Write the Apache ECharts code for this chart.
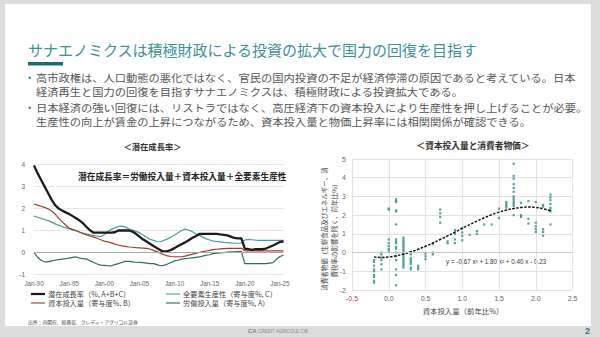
<!DOCTYPE html>
<html><head><meta charset="utf-8">
<script src="https://cdn.jsdelivr.net/npm/echarts@6/dist/echarts.min.js"></script>
<style>html,body{margin:0;padding:0;background:#fff}#c{width:600px;height:337px}</style>
</head><body><div id="c"></div>
<script>
// ---------- Left chart: potential growth decomposition (half-year points) ----------
const periods = [
 "Jan-90","Jul-90","Jan-91","Jul-91","Jan-92","Jul-92","Jan-93","Jul-93","Jan-94","Jul-94",
 "Jan-95","Jul-95","Jan-96","Jul-96","Jan-97","Jul-97","Jan-98","Jul-98","Jan-99","Jul-99",
 "Jan-00","Jul-00","Jan-01","Jul-01","Jan-02","Jul-02","Jan-03","Jul-03","Jan-04","Jul-04",
 "Jan-05","Jul-05","Jan-06","Jul-06","Jan-07","Jul-07","Jan-08","Jul-08","Jan-09","Jul-09",
 "Jan-10","Jul-10","Jan-11","Jul-11","Jan-12","Jul-12","Jan-13","Jul-13","Jan-14","Jul-14",
 "Jan-15","Jul-15","Jan-16","Jul-16","Jan-17","Jul-17","Jan-18","Jul-18","Jan-19","Jul-19",
 "Jan-20","Jul-20","Jan-21","Jul-21","Jan-22","Jul-22","Jan-23","Jul-23","Jan-24","Jul-24",
 "Jan-25","Jul-25"];
const potentialGrowth = [
 3.95,3.6,3.3,3.0,2.7,2.4,2.15,2.0,1.9,1.82,
 1.75,1.65,1.55,1.45,1.32,1.15,1.0,0.9,0.9,0.9,
 0.9,0.9,0.9,0.92,1.0,1.0,1.0,1.0,0.95,0.85,
 0.72,0.6,0.5,0.4,0.3,0.2,0.1,0.04,0.06,0.12,
 0.2,0.3,0.38,0.46,0.56,0.66,0.74,0.84,0.85,0.85,
 0.85,0.85,0.85,0.82,0.8,0.78,0.72,0.66,0.64,0.64,
 0.18,0.15,0.12,0.15,0.15,0.15,0.18,0.25,0.32,0.4,
 0.48,0.5];
const capitalContrib = [
 2.2,2.15,2.1,2.05,1.98,1.88,1.75,1.55,1.4,1.25,
 1.1,1.05,1.0,0.92,0.85,0.8,0.75,0.7,0.65,0.58,
 0.52,0.48,0.44,0.38,0.34,0.3,0.28,0.25,0.24,0.22,
 0.21,0.2,0.19,0.16,0.1,0.04,-0.03,-0.1,-0.15,-0.18,
 -0.19,-0.19,-0.19,-0.16,-0.12,-0.08,-0.04,0.0,0.04,0.07,
 0.1,0.13,0.15,0.17,0.18,0.19,0.19,0.19,0.19,0.19,
 0.08,0.08,0.08,0.08,0.08,0.08,0.08,0.08,0.08,0.08,
 0.08,0.08];
const tfpContrib = [
 1.65,1.6,1.55,1.5,1.45,1.38,1.3,1.24,1.18,1.12,
 1.08,1.03,0.98,0.93,0.88,0.84,0.8,0.78,0.74,0.72,
 0.82,0.95,1.05,1.12,1.18,1.2,1.15,1.08,1.02,0.96,
 0.9,0.8,0.7,0.6,0.55,0.5,0.49,0.55,0.62,0.7,
 0.8,0.9,1.0,1.06,1.02,0.95,0.85,0.78,0.7,0.62,
 0.57,0.52,0.5,0.48,0.46,0.45,0.44,0.42,0.42,0.42,
 0.57,0.6,0.58,0.56,0.55,0.55,0.55,0.55,0.55,0.55,
 0.55,0.55];
const laborContrib = [
 0.0,-0.2,-0.35,-0.42,-0.42,-0.38,-0.35,-0.32,-0.3,-0.28,
 -0.25,-0.22,-0.2,-0.25,-0.28,-0.3,-0.38,-0.45,-0.52,-0.57,
 -0.58,-0.6,-0.6,-0.55,-0.5,-0.45,-0.4,-0.4,-0.42,-0.44,
 -0.45,-0.46,-0.48,-0.5,-0.5,-0.55,-0.6,-0.58,-0.52,-0.45,
 -0.38,-0.35,-0.3,-0.28,-0.26,-0.24,-0.22,-0.2,-0.16,-0.12,
 -0.1,-0.05,-0.03,-0.02,0.0,0.02,0.03,0.03,0.04,0.05,
 -0.5,-0.5,-0.5,-0.5,-0.5,-0.5,-0.5,-0.48,-0.46,-0.3,
 -0.18,-0.12];
const leftYTicks = [-1, 0, 1, 2, 3, 4];

// ---------- Right chart: capital input vs core CPI ----------
const capitalInput = [
 -0.2,-0.2,-0.2,-0.2,-0.2,-0.2,-0.2,-0.2,-0.2,
 -0.1,-0.1,-0.1,-0.1,-0.1,-0.1,
 0.0,0.0,0.0,0.0,0.0,0.0,0.0,
 0.1,0.1,0.1,0.1,0.1,0.1,0.1,0.1,0.1,0.1,0.1,0.1,0.1,0.1,0.1,0.1,0.1,
 0.2,0.2,0.2,0.2,0.2,0.2,0.2,0.2,0.2,0.2,0.2,0.2,0.2,0.2,0.2,0.2,0.2,
 0.3,0.3,0.3,0.3,0.3,0.3,0.3,0.3,
 0.4,0.4,0.4,
 0.5,0.5,0.5,
 0.6,0.6,0.6,
 0.7,0.7,0.7,0.7,
 0.8,0.8,
 0.9,0.9,0.9,0.9,
 1.0,1.0,1.0,1.0,
 1.1,
 1.2,1.2,
 1.3,
 1.4,
 1.5,1.5,
 1.6,1.6,1.6,1.6,
 1.7,1.7,1.7,1.7,1.7,1.7,1.7,1.7,1.7,1.7,1.7,1.7,1.7,
 1.8,1.8,1.8,
 1.9,1.9,1.9,
 2.0,2.0,2.0,2.0,2.0,
 2.1,2.1,2.1,2.1,2.1,
 2.2,2.2,2.2,2.2,2.2,2.2,2.2,2.2];
const coreCpi = [
 -0.4,-0.5,-0.7,-0.9,-1.0,-1.2,-1.3,-1.5,-1.6,
 0.0,-0.1,-0.27,-0.4,-0.63,-0.9,
 2.35,2.3,0.7,0.5,0.35,0.2,0.1,
 2.85,2.75,2.7,2.25,2.2,1.5,0.7,0.6,0.5,0.3,0.2,0.0,-0.2,-0.4,-0.9,-1.2,-1.75,
 0.8,0.7,0.6,0.5,0.4,0.3,0.2,0.1,0.0,-0.1,-0.2,-0.3,-0.4,-0.5,-0.6,-0.7,-0.8,
 0.0,-0.1,-0.3,-0.4,-0.5,-0.6,-0.8,-0.9,
 -0.7,-0.8,-0.9,
 -0.05,-0.2,-0.35,
 0.45,0.0,-0.1,
 2.3,2.1,1.9,1.6,
 0.6,0.5,
 1.2,1.0,0.7,0.5,
 1.3,1.07,0.89,0.66,
 0.95,
 1.15,1.0,
 1.5,
 1.5,
 2.35,1.85,
 2.7,2.6,2.5,2.4,
 4.75,4.1,3.95,3.65,3.45,3.25,3.0,2.9,2.8,2.7,2.6,2.5,2.0,
 2.65,2.0,1.9,
 2.75,1.8,1.55,
 2.7,1.6,1.4,1.25,1.1,
 2.55,2.45,1.25,1.1,0.9,
 3.1,2.95,2.8,2.6,2.4,2.3,2.2,1.5];
const trendX = [-0.2,-0.1,0.0,0.1,0.2,0.3,0.4,0.5,0.6,0.7,0.8,0.9,1.0,1.1,1.2,1.3,1.4,1.5,1.6,1.7,1.8,1.9,2.0,2.1,2.2];
const trendY = [-0.23,-0.26,-0.23,-0.17,-0.08,0.04,0.18,0.34,0.51,0.70,0.89,1.09,1.30,1.49,1.68,1.86,2.02,2.16,2.27,2.36,2.41,2.43,2.41,2.34,2.23];

// ---------- Texts ----------
const slideTitle = "サナエノミクスは積極財政による投資の拡大で国力の回復を目指す";
const bulletLines = [
 ["高市政権は、人口動態の悪化ではなく、官民の国内投資の不足が経済停滞の原因であると考えている。日本",
  "経済再生と国力の回復を目指すサナエノミクスは、積極財政による投資拡大である。"],
 ["日本経済の強い回復には、リストラではなく、高圧経済下の資本投入により生産性を押し上げることが必要。",
  "生産性の向上が賃金の上昇につながるため、資本投入量と物価上昇率には相関関係が確認できる。"]
];
const leftTitle = "＜潜在成長率＞";
const rightTitle = "＜資本投入量と消費者物価＞";
const formulaNote = "潜在成長率＝労働投入量＋資本投入量＋全要素生産性";
const seriesNames = ["潜在成長率（%, A+B+C）","資本投入量（寄与度%, B）","全要素生産性（寄与度%, C）","労働投入量（寄与度%, A）"];
const sourceNote = "出所：内閣府、総務省、クレディ・アグリコル証券";
const trendLabel = "y = -0.67 x³ + 1.80 x² + 0.40 x - 0.23";
const rightXName = "資本投入量（前年比%）";
const rightYName = "消費者物価（生鮮食品及びエネルギー、消\n費税率の影響を除く、前年比%）";

const FONT = '"Noto Sans CJK JP","Noto Sans",sans-serif';
const NUMF = '"Liberation Sans",Arial,sans-serif';

const chart = echarts.init(document.getElementById('c'), null, {renderer: 'svg'});

const graphics = [
  {type:'rect', shape:{x:0,y:0,width:600,height:337}, style:{fill:'#dcdcdc'}, z:-10, silent:true},
  {type:'rect', shape:{x:5,y:4,width:586,height:322}, style:{fill:'#ffffff'}, z:-9, silent:true},
  {type:'text', x:28, y:49, style:{text:slideTitle, font:'15px '+FONT, fill:'#3f8f98', textVerticalAlign:'middle'}},
  {type:'rect', shape:{x:28,y:62,width:35,height:3.5}, style:{fill:'#1d6c75'}},
  {type:'text', x:600-10, y:331, style:{text:'2', font:'bold 9px '+NUMF, fill:'#2b7f88', textAlign:'right', textVerticalAlign:'middle'}},
  {type:'text', x:248, y:331, style:{text:'CA', font:'bold 6px '+NUMF, fill:'#6a8a8a', textVerticalAlign:'middle'}},
  {type:'text', x:258, y:331, style:{text:'CREDIT AGRICOLE CIB', font:'4.5px '+NUMF, fill:'#888', textVerticalAlign:'middle'}},
  {type:'text', x:152.5, y:145.5, style:{text:leftTitle, font:'bold 8.3px '+FONT, fill:'#333', textAlign:'center', textVerticalAlign:'middle'}},
  {type:'text', x:473, y:145.5, style:{text:rightTitle, font:'bold 8.7px '+FONT, fill:'#333', textAlign:'center', textVerticalAlign:'middle'}},
  {type:'text', x:78, y:176.5, style:{text:formulaNote, font:'bold 8.7px '+FONT, fill:'#222', textVerticalAlign:'middle'}},
  {type:'text', x:28, y:321, style:{text:sourceNote, font:'4.8px '+FONT, fill:'#444', textVerticalAlign:'middle'}},
  {type:'text', x:446, y:261.5, style:{text:trendLabel, font:'6.3px '+NUMF, fill:'#333', textVerticalAlign:'middle'}},
  {type:'text', x:463, y:310.5, style:{text:rightXName, font:'7.4px '+FONT, fill:'#444', textAlign:'center', textVerticalAlign:'middle'}},
  {type:'text', x:329, y:229, rotation:Math.PI/2, style:{text:rightYName, font:'6.5px '+FONT, fill:'#444', textAlign:'center', textVerticalAlign:'middle', lineHeight:10}}
];
const bulletY = [[77.5,92],[107.5,122]];
bulletLines.forEach((lines, i) => {
  graphics.push({type:'text', x:28, y:bulletY[i][0], style:{text:'•', font:'9px '+NUMF, fill:'#3f8f98', textVerticalAlign:'middle'}});
  lines.forEach((ln, j) => {
    graphics.push({type:'text', x:36, y:bulletY[i][j], scaleX:1.15,
      style:{text:ln, font:'9.8px '+FONT, fill:'#555', textVerticalAlign:'middle'}});
  });
});

const axisLbl = {fontSize:6.5, color:'#666', fontFamily:NUMF};
const thickIcon = 'path://M0,0h20v3.2H0z';
const thinIcon = 'path://M0,0h20v1.6H0z';

chart.setOption({
  animation:false,
  textStyle:{fontFamily:FONT},
  grid:[
    {left:34, right:316.5, top:164.3, bottom:62.4},
    {left:352, right:27.5, top:159, bottom:47}
  ],
  xAxis:[
    {gridIndex:0, type:'category', data:periods, boundaryGap:false,
     axisLine:{show:false}, axisTick:{show:false}, splitLine:{show:false},
     axisLabel:Object.assign({}, axisLbl, {interval:9, margin:6, fontSize:6.3})},
    {gridIndex:1, type:'value', min:-0.5, max:2.5, interval:0.5,
     axisLine:{show:false}, axisTick:{show:false},
     splitLine:{show:true, lineStyle:{color:'#e3e3e3', width:1}},
     axisLabel:Object.assign({}, axisLbl, {fontSize:7, margin:5,
       formatter:v => v.toFixed(1),
       color:v => (Number(v) < 0 ? '#b5473a' : '#666')})}
  ],
  yAxis:[
    {gridIndex:0, type:'value', min:leftYTicks[0], max:leftYTicks[leftYTicks.length-1], interval:1,
     axisLine:{show:false}, axisTick:{show:false},
     splitLine:{lineStyle:{color:'#e6e6e6', width:1}},
     axisLabel:Object.assign({}, axisLbl, {margin:9})},
    {gridIndex:1, type:'value', min:-2, max:5, interval:1,
     axisLine:{show:false}, axisTick:{show:false},
     splitLine:{lineStyle:{color:'#e3e3e3', width:1}},
     axisLabel:Object.assign({}, axisLbl, {fontSize:7, margin:6})}
  ],
  legend:[
    {left:31, top:290, orient:'vertical', itemGap:1, itemWidth:14, itemHeight:7, padding:0,
     data:[{name:seriesNames[0], icon:thickIcon},{name:seriesNames[1], icon:thinIcon}],
     textStyle:{fontSize:7.2, color:'#444', lineHeight:8, padding:[0,0,0,-2]}},
    {left:166, top:290, orient:'vertical', itemGap:1, itemWidth:14, itemHeight:7, padding:0,
     data:[{name:seriesNames[2], icon:thinIcon},{name:seriesNames[3], icon:thinIcon}],
     textStyle:{fontSize:7.2, color:'#444', lineHeight:8, padding:[0,0,0,-2]}}
  ],
  graphic:graphics,
  series:[
    {name:seriesNames[2], type:'line', xAxisIndex:0, yAxisIndex:0, data:tfpContrib, symbol:'none',
     lineStyle:{color:'#4a9f9b', width:1.2}, itemStyle:{color:'#4a9f9b'},
     markLine:{silent:true, symbol:'none', label:{show:false}, lineStyle:{color:'#a8a8a8', width:1, type:'solid'}, data:[{yAxis:0}]}},
    {name:seriesNames[3], type:'line', xAxisIndex:0, yAxisIndex:0, data:laborContrib, symbol:'none',
     lineStyle:{color:'#2c6f60', width:1.2}, itemStyle:{color:'#2c6f60'}},
    {name:seriesNames[1], type:'line', xAxisIndex:0, yAxisIndex:0, data:capitalContrib, symbol:'none',
     lineStyle:{color:'#a8392e', width:1.2}, itemStyle:{color:'#a8392e'}},
    {name:seriesNames[0], type:'line', xAxisIndex:0, yAxisIndex:0, data:potentialGrowth, symbol:'none',
     lineStyle:{color:'#1c1c1c', width:2.3}, itemStyle:{color:'#1c1c1c'}},
    {name:'scatter', type:'scatter', xAxisIndex:1, yAxisIndex:1,
     data:capitalInput.map((x,i)=>[x, coreCpi[i]]), symbol:'rect', symbolSize:2.2,
     itemStyle:{color:'#2d8a86'},
     markLine:{silent:true, symbol:'none', label:{show:false}, lineStyle:{color:'#c8c8c8', width:1, type:'solid'}, data:[{yAxis:0}]}},
    {name:'trend', type:'line', xAxisIndex:1, yAxisIndex:1,
     data:trendX.map((x,i)=>[x, trendY[i]]), symbol:'none', smooth:true,
     lineStyle:{color:'#111', width:1.5, type:[2.5,1.5]}}
  ]
});
</script></body></html>
